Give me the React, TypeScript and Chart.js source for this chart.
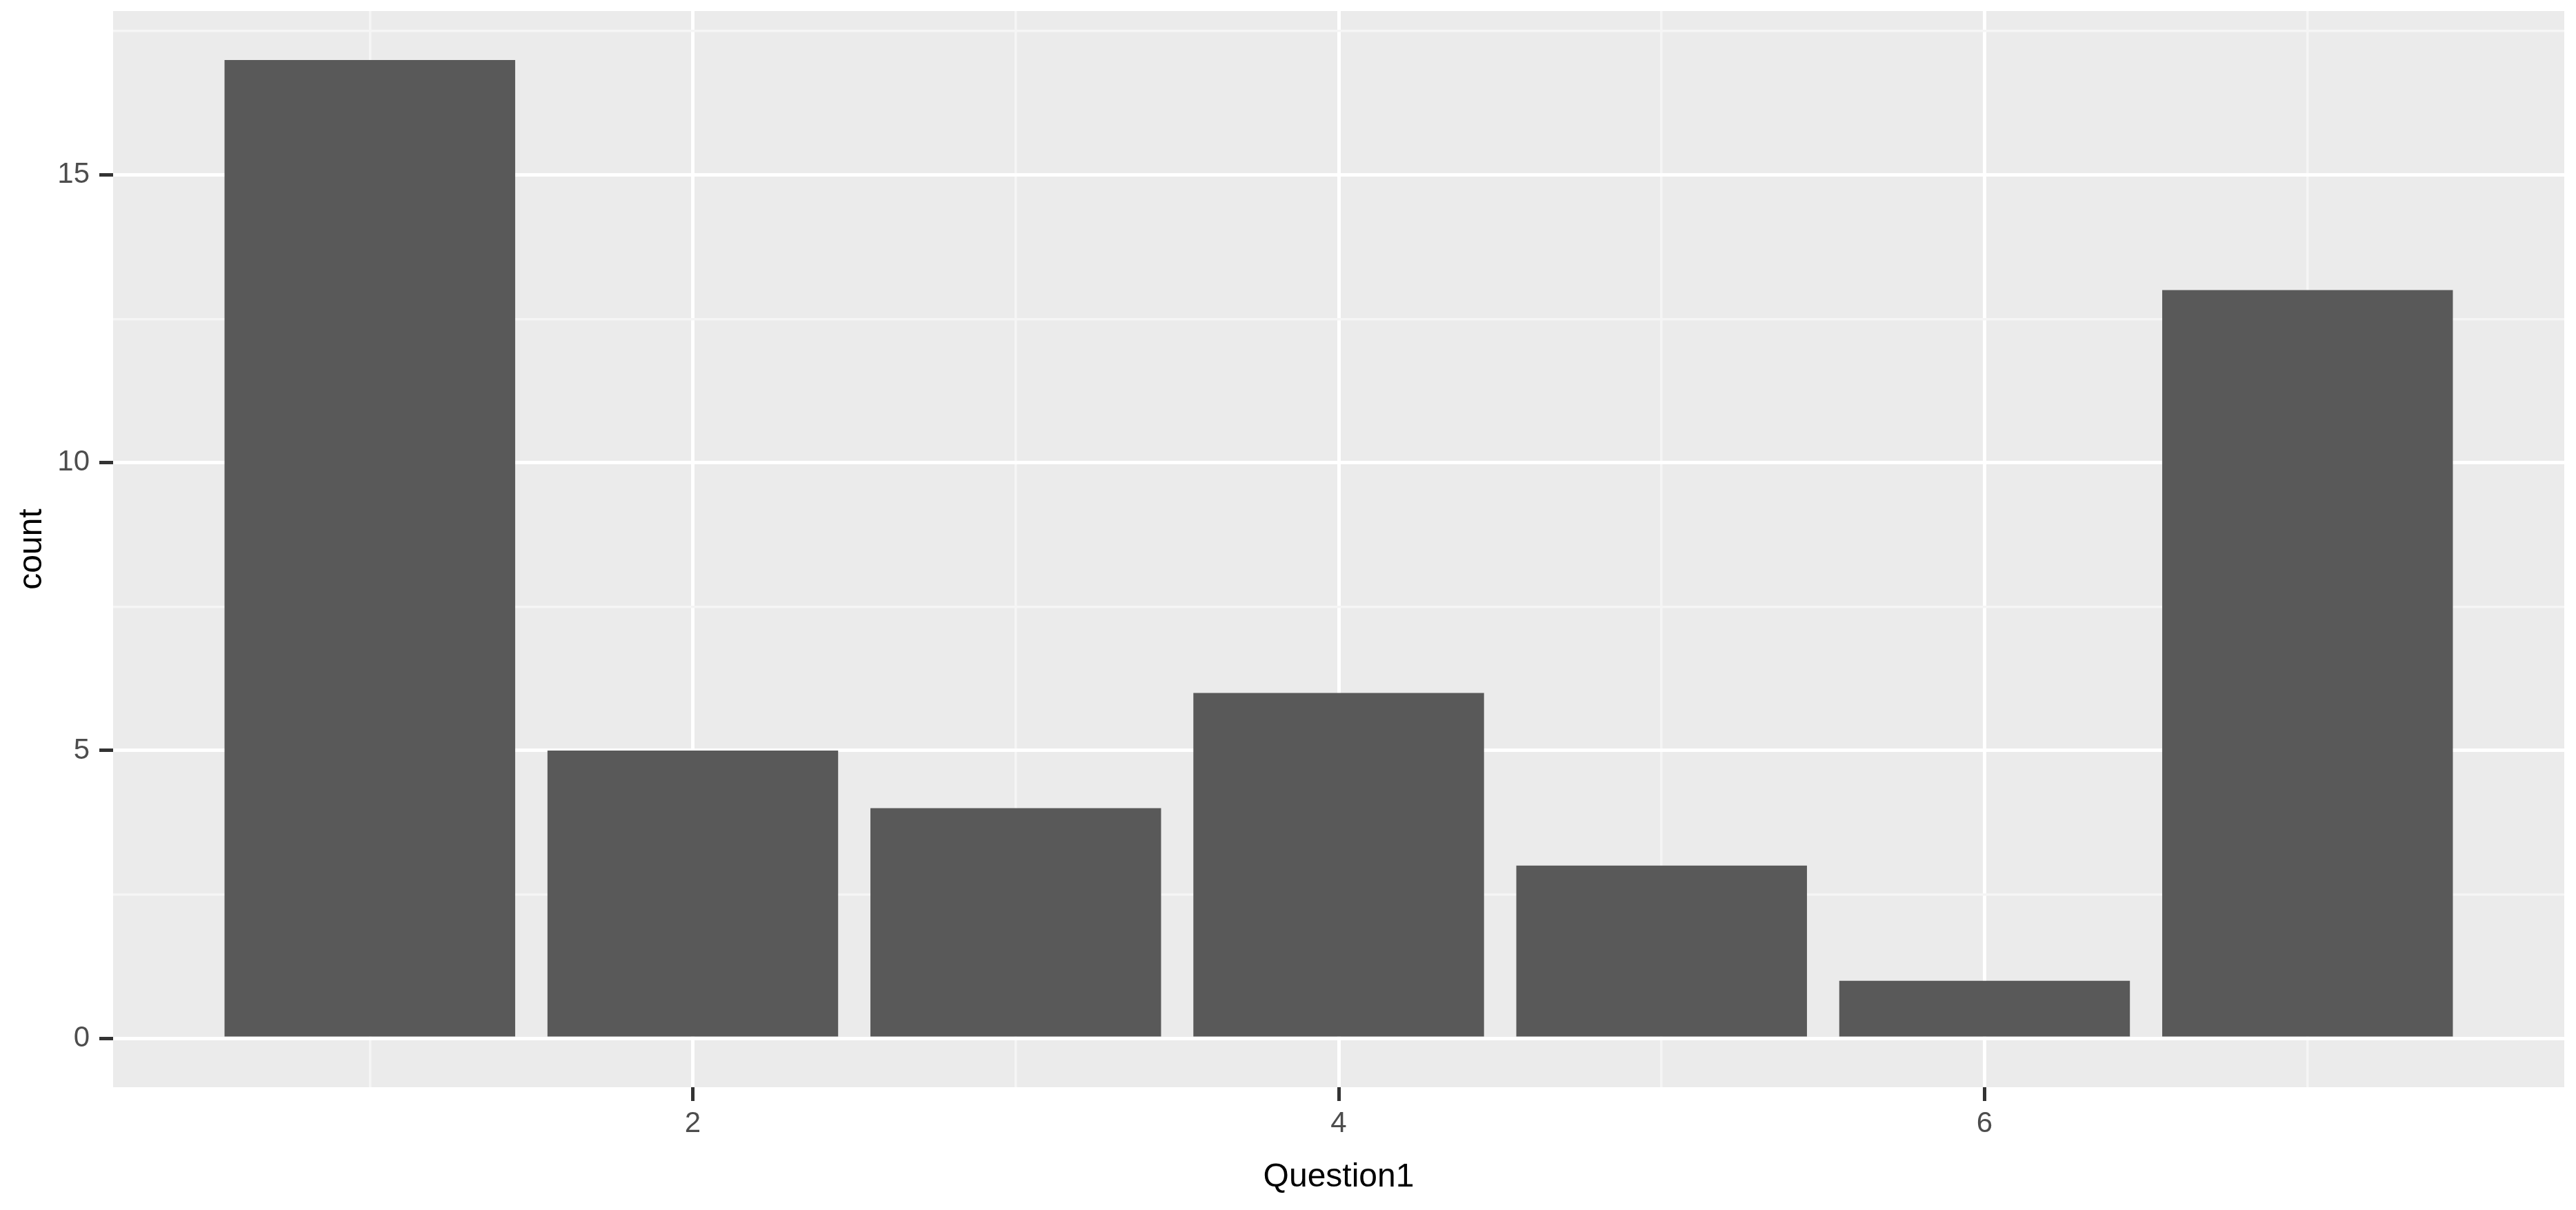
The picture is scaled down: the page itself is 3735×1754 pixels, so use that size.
import React, { useEffect, useRef } from "react";
import { Chart, registerables } from "chart.js";

Chart.register(...registerables);

const categories: number[] = [1, 2, 3, 4, 5, 6, 7];
const counts: number[] = [17, 5, 4, 6, 3, 1, 13];

const xTickValues: number[] = [1, 2, 3, 4, 5, 6, 7];
const xMajorTicks: number[] = [2, 4, 6];
const yTickValues: number[] = [0, 2.5, 5, 7.5, 10, 12.5, 15, 17.5];
const yMajorTicks: number[] = [0, 5, 10, 15];

const xLimits: number[] = [0.205, 7.795];
const yLimits: number[] = [-0.85, 17.85];

const xTitle = "Question1";
const yTitle = "count";

const W = 3735;
const H = 1754;

const panelBg = {
  id: "panelBg",
  beforeDraw(chart: any) {
    const { ctx, chartArea } = chart;
    if (!chartArea) return;
    ctx.save();
    ctx.fillStyle = "#EBEBEB";
    ctx.fillRect(chartArea.left, chartArea.top, chartArea.right - chartArea.left, chartArea.bottom - chartArea.top);
    ctx.restore();
  },
};

export default function App() {
  const ref = useRef<HTMLCanvasElement | null>(null);

  useEffect(() => {
    if (!ref.current) return;
    const isMaj = (list: number[]) => (c: any) => c && c.tick && list.includes(c.tick.value);
    const xMaj = isMaj(xMajorTicks);
    const yMaj = isMaj(yMajorTicks);
    const chart = new Chart(ref.current, {
      type: "bar",
      data: {
        datasets: [
          {
            label: "count",
            data: categories.map((x, i) => ({ x, y: counts[i] })),
            backgroundColor: "#595959",
            borderWidth: 0,
            barPercentage: 0.9,
            categoryPercentage: 1.0,
          },
        ],
      },
      options: {
        responsive: false,
        animation: false,
        devicePixelRatio: 1,
        layout: { padding: { top: 16, right: 17, left: 0, bottom: 0 } },
        plugins: { legend: { display: false }, tooltip: { enabled: false } },
        scales: {
          x: {
            type: "linear",
            min: xLimits[0],
            max: xLimits[1],
            offset: false,
            afterBuildTicks: (scale: any) => {
              scale.ticks = xTickValues.map((v) => ({ value: v }));
            },
            afterFit: (scale: any) => {
              scale.height = 178;
              scale.paddingLeft = 0;
              scale.paddingRight = 0;
            },
            grid: {
              offset: false,
              color: (c: any) => (xMaj(c) ? "#FFFFFF" : "#F5F5F5"),
              lineWidth: (c: any) => (xMaj(c) ? 5 : 3.5),
              tickColor: (c: any) => (xMaj(c) ? "#333333" : "rgba(0,0,0,0)"),
              tickWidth: 5,
              tickLength: 20,
              drawTicks: true,
            },
            border: { display: false },
            ticks: {
              autoSkip: false,
              maxRotation: 0,
              padding: 8,
              color: "#4D4D4D",
              font: { family: "'Liberation Sans', Arial, sans-serif", size: 42 },
              callback: (v: any) => (xMajorTicks.includes(Number(v)) ? String(v) : ""),
            },
            title: {
              display: true,
              text: xTitle,
              color: "#000000",
              font: { family: "'Liberation Sans', Arial, sans-serif", size: 48 },
              padding: { top: 0, bottom: 18 },
            },
          },
          y: {
            type: "linear",
            min: yLimits[0],
            max: yLimits[1],
            afterBuildTicks: (scale: any) => {
              scale.ticks = yTickValues.map((v) => ({ value: v }));
            },
            afterFit: (scale: any) => {
              scale.width = 164;
              scale.paddingTop = 0;
              scale.paddingBottom = 0;
            },
            grid: {
              color: (c: any) => (yMaj(c) ? "#FFFFFF" : "#F5F5F5"),
              lineWidth: (c: any) => (yMaj(c) ? 5 : 3.5),
              tickColor: (c: any) => (yMaj(c) ? "#333333" : "rgba(0,0,0,0)"),
              tickWidth: 5,
              tickLength: 20,
              drawTicks: true,
            },
            border: { display: false },
            ticks: {
              autoSkip: false,
              padding: 14,
              color: "#4D4D4D",
              font: { family: "'Liberation Sans', Arial, sans-serif", size: 42 },
              callback: (v: any) => (yMajorTicks.includes(Number(v)) ? String(v) : ""),
            },
            title: {
              display: true,
              text: yTitle,
              color: "#000000",
              font: { family: "'Liberation Sans', Arial, sans-serif", size: 48 },
              padding: { top: 18, bottom: 0 },
            },
          },
        },
      },
      plugins: [panelBg],
    } as any);
    return () => chart.destroy();
  }, []);

  return (
    <div style={{ position: "absolute", left: 0, top: 0, width: W, height: H, background: "#FFFFFF" }}>
      <canvas ref={ref} width={W} height={H} style={{ width: W, height: H, display: "block" }} />
    </div>
  );
}
